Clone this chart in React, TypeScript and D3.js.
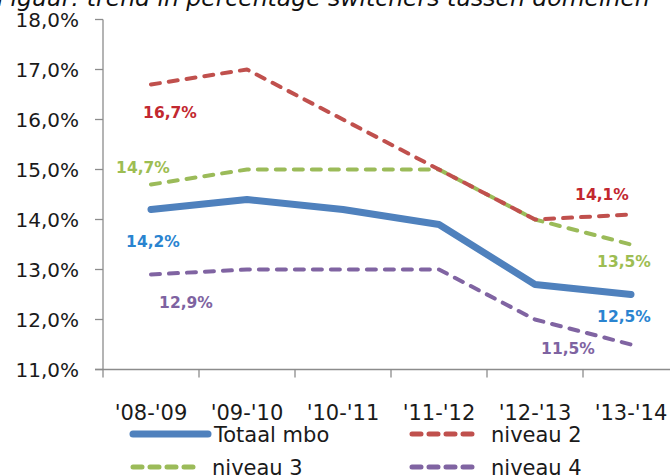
import React from "react";
import * as d3 from "d3";

const categories = ["'08-'09", "'09-'10", "'10-'11", "'11-'12", "'12-'13", "'13-'14"];
const totaalMbo = [14.2, 14.4, 14.2, 13.9, 12.7, 12.5];
const niveau2 = [16.7, 17.0, 16.0, 15.0, 14.0, 14.1];
const niveau3 = [14.7, 15.0, 15.0, 15.0, 14.0, 13.5];
const niveau4 = [12.9, 13.0, 13.0, 13.0, 12.0, 11.5];
const yTicks = [11, 12, 13, 14, 15, 16, 17, 18];
const titleText = "Figuur: trend in percentage switchers tussen domeinen";

const series = [
  { name: "Totaal mbo", values: totaalMbo, color: "#4f81bd", labelColor: "#2a84d0", width: 7, dash: null },
  { name: "niveau 2", values: niveau2, color: "#c0504d", labelColor: "#c2282f", width: 4, dash: "9 9" },
  { name: "niveau 3", values: niveau3, color: "#9bbb59", labelColor: "#9dbd52", width: 4, dash: "9 9" },
  { name: "niveau 4", values: niveau4, color: "#8064a2", labelColor: "#7e63a1", width: 4, dash: "9 9" },
];

// label placement (series index, point index, dx, dy from point to label centre/baseline)
const labelLayout = [
  { s: 1, i: 0, dx: 19, dy: 33.5 },
  { s: 2, i: 0, dx: -8, dy: -11.5 },
  { s: 0, i: 0, dx: 2, dy: 37.5 },
  { s: 3, i: 0, dx: 35, dy: 33.5 },
  { s: 1, i: 5, dx: -29, dy: -14.5 },
  { s: 2, i: 5, dx: -7, dy: 22.5 },
  { s: 0, i: 5, dx: -7, dy: 27.5 },
  { s: 3, i: 5, dx: -63, dy: 9.5 },
];

const legendLayout = [
  { s: 0, x: 133, y: 434 },
  { s: 1, x: 412, y: 434 },
  { s: 2, x: 133, y: 467 },
  { s: 3, x: 412, y: 467 },
];

const fmt = (v: number) => v.toFixed(1).replace(".", ",") + "%";

export default function App() {
  const W = 670, H = 475;
  const x0 = 103, bandW = 96;
  const x = d3.scaleBand().domain(categories).range([x0, x0 + bandW * categories.length]).padding(0);
  const y = d3.scaleLinear().domain([11, 18]).range([369.5, 19.5]);
  const px = (i: number) => (x(categories[i]) as number) + x.bandwidth() / 2;
  const line = d3.line<number>().x((_, i) => px(i)).y((d) => y(d));
  const font = "'DejaVu Sans', Verdana, sans-serif";
  const axisColor = "#8c8c8c";

  return (
    <svg width={W} height={H} style={{ position: "absolute", left: 0, top: 0, background: "#fff" }} fontFamily={font}>
      <rect x={0} y={0} width={W} height={H} fill="#fff" />
      <text x={-3} y={6} fontSize={23.5} fontStyle="italic" fill="#111">{titleText}</text>

      {/* y axis */}
      <line x1={x0} x2={x0} y1={y(18)} y2={y(11)} stroke={axisColor} strokeWidth={1.3} />
      {yTicks.map((t) => (
        <g key={t}>
          <line x1={x0 - 8} x2={x0} y1={y(t)} y2={y(t)} stroke={axisColor} strokeWidth={1.3} />
          <text x={79} y={y(t)} dy="0.36em" textAnchor="end" fontSize={20} fill="#1a1a1a">{fmt(t)}</text>
        </g>
      ))}

      {/* x axis */}
      <line x1={x0 - 8} x2={x0 + bandW * categories.length} y1={y(11)} y2={y(11)} stroke={axisColor} strokeWidth={1.3} />
      {categories.map((c, i) => (
        <g key={c}>
          <line x1={(x(c) as number) + bandW} x2={(x(c) as number) + bandW} y1={y(11)} y2={y(11) + 8} stroke={axisColor} strokeWidth={1.3} />
          <text x={px(i)} y={420} textAnchor="middle" fontSize={21} fill="#1a1a1a">{c}</text>
        </g>
      ))}
      <line x1={x0} x2={x0} y1={y(11)} y2={y(11) + 8} stroke={axisColor} strokeWidth={1.3} />

      {/* lines */}
      {[3, 2, 1, 0].map((si) => {
        const s = series[si];
        return (
          <path key={s.name} d={line(s.values) as string} fill="none" stroke={s.color} strokeWidth={s.width}
            strokeDasharray={s.dash ?? undefined} strokeLinecap="round" strokeLinejoin="round" />
        );
      })}

      {/* data labels */}
      {labelLayout.map((l, k) => {
        const s = series[l.s];
        return (
          <text key={k} x={px(l.i) + l.dx} y={y(s.values[l.i]) + l.dy} textAnchor="middle" fontSize={15.5}
            fontWeight="bold" fill={s.labelColor}>{fmt(s.values[l.i])}</text>
        );
      })}

      {/* legend */}
      {legendLayout.map((l) => {
        const s = series[l.s];
        const len = s.dash ? 68 : 75;
        return (
          <g key={s.name}>
            <line x1={l.x} x2={l.x + len} y1={l.y} y2={l.y} stroke={s.color} strokeWidth={s.dash ? 5 : 7}
              strokeDasharray={s.dash ? "9 8" : undefined} strokeLinecap="round" />
            <text x={s.dash ? l.x + 79 : l.x + 81} y={l.y + 8} fontSize={21} fill="#1a1a1a">{s.name}</text>
          </g>
        );
      })}
    </svg>
  );
}
